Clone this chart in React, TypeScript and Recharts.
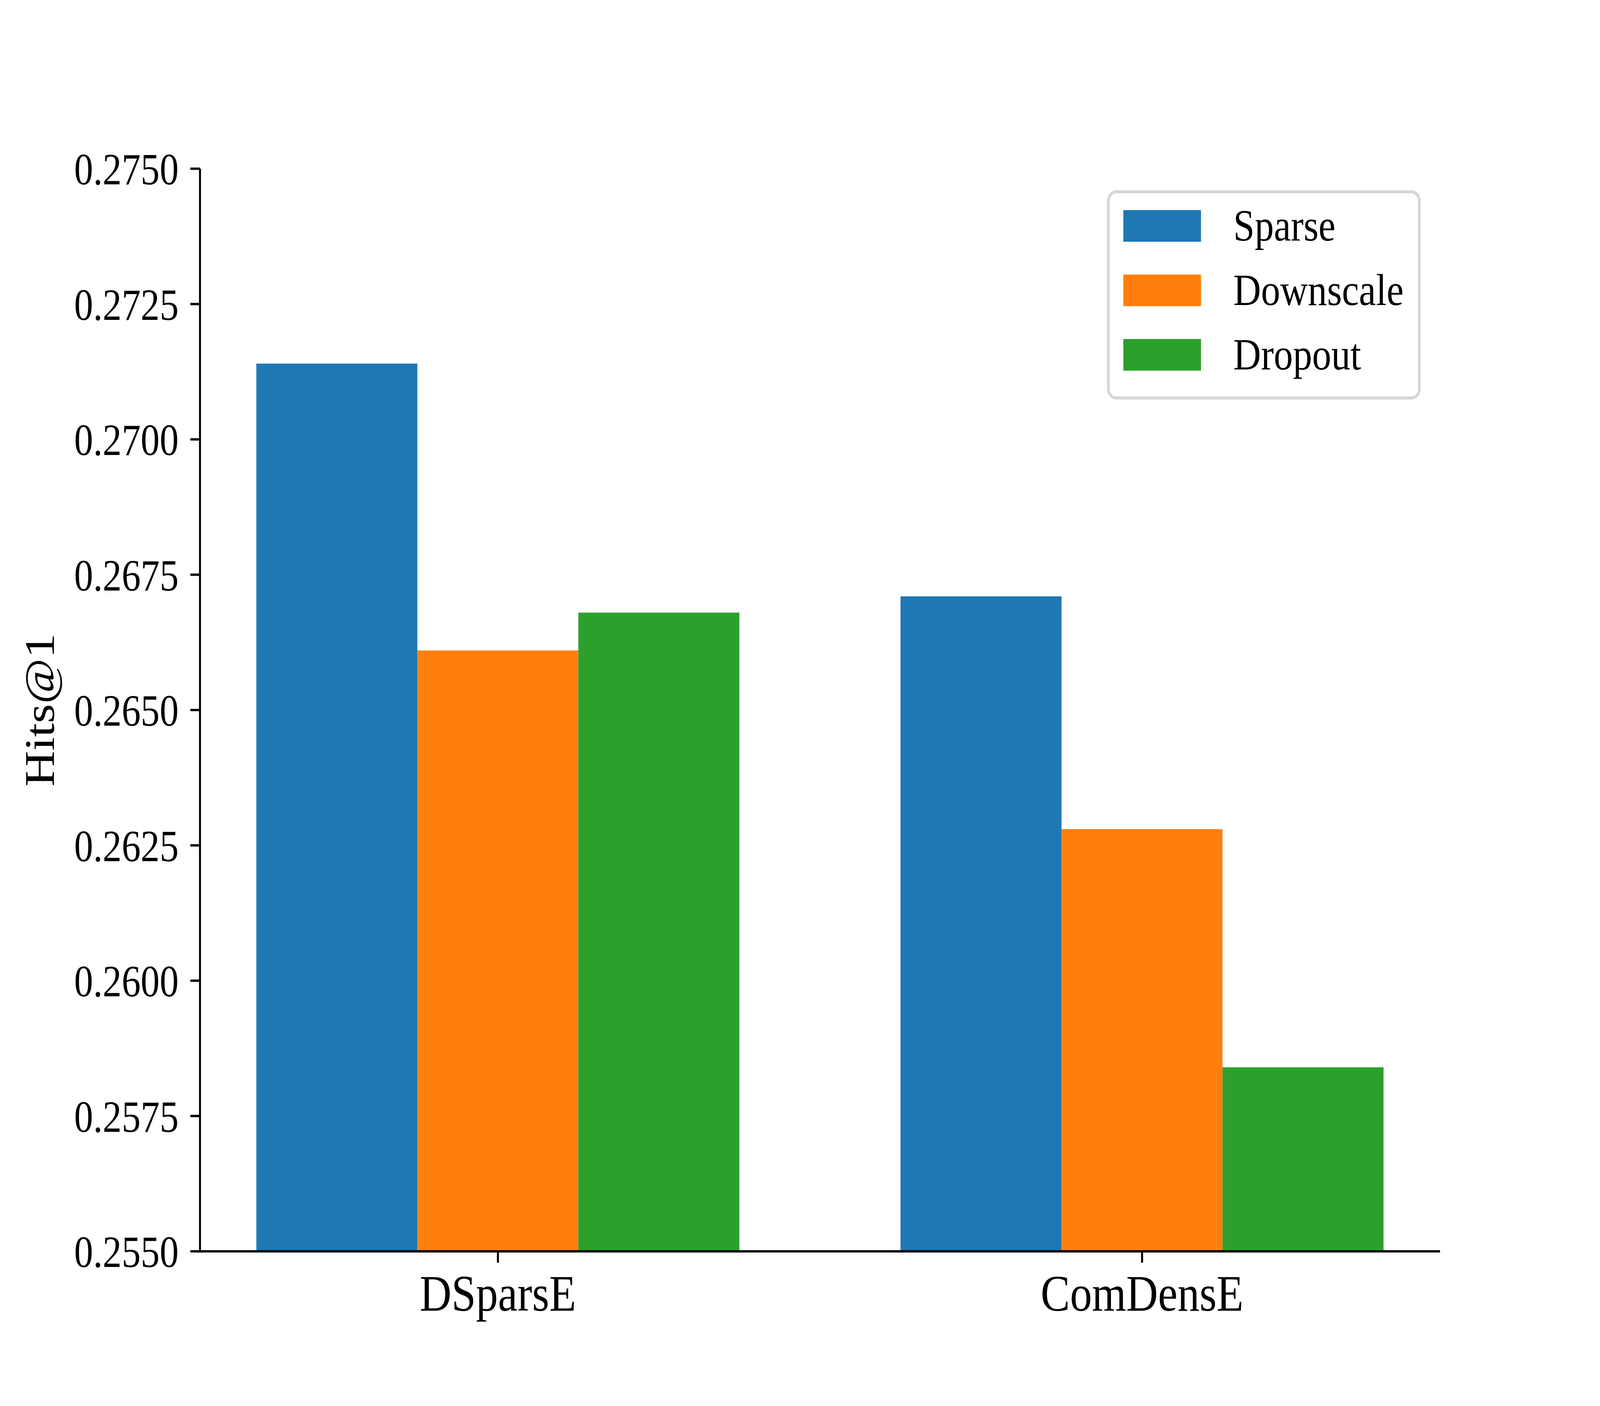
import { BarChart, Bar, XAxis, YAxis, Legend } from "recharts";

/* ── data ── */
const CATEGORIES = ["DSparsE", "ComDensE"];
const SPARSE = [0.2714, 0.2671];
const DOWNSCALE = [0.2661, 0.2628];
const DROPOUT = [0.2668, 0.2584];
const Y_TICKS = [0.255, 0.2575, 0.26, 0.2625, 0.265, 0.2675, 0.27, 0.2725, 0.275];

const SERIES = [
  { key: "sparse", name: "Sparse", color: "#1f77b4" },
  { key: "downscale", name: "Downscale", color: "#ff7f0e" },
  { key: "dropout", name: "Dropout", color: "#2ca02c" },
];

const data = CATEGORIES.map((name, i) => ({
  name,
  sparse: SPARSE[i],
  downscale: DOWNSCALE[i],
  dropout: DROPOUT[i],
}));

const FONT = '"Liberation Serif", "Times New Roman", serif';
const W = 4800;
const H = 3600;
const LINE = 6;

/* ── legend box (matplotlib style) ── */
function LegendBox() {
  const w = 941;
  const h = 536;
  return (
    <svg width={w} height={h} style={{ display: "block" }}>
      <rect x={4} y={4} width={w - 8} height={h - 8} rx={24} ry={24} fill="#fff" fillOpacity={0.8} stroke="#d6d6d6" strokeWidth={8} />
      {SERIES.map((s, i) => {
        const top = 51 + i * 165;
        return (
          <g key={s.key}>
            <rect x={49} y={top} width={233} height={81} fill={s.color} />
            <text x={379} y={top + 40 + 38} fontSize={115} fontFamily={FONT} fill="#000">
              {s.name}
            </text>
          </g>
        );
      })}
    </svg>
  );
}

export default function App() {
  // the browser caps the viewport (4096 wide), so stretch the figure to fill it
  const vw = typeof window !== "undefined" ? window.innerWidth : W;
  const vh = typeof window !== "undefined" ? window.innerHeight : H;
  const sx = Math.min(1, vw / W);
  const sy = Math.min(1, vh / H);

  return (
    <div
      style={{
        position: "absolute",
        left: 0,
        top: 0,
        width: W,
        height: H,
        background: "#fff",
        transform: `scale(${sx}, ${sy})`,
        transformOrigin: "0 0",
      }}
    >
      <BarChart
        width={W}
        height={H}
        data={data}
        margin={{ top: 432, right: 480, bottom: 0, left: 0 }}
        barCategoryGap="12.5%"
        barGap={0}
      >
        <XAxis
          dataKey="name"
          height={396}
          padding={{ left: -72.5, right: -72.5 }}
          axisLine={{ stroke: "#000", strokeWidth: LINE }}
          tickLine={{ stroke: "#000", strokeWidth: LINE }}
          tickSize={29}
          tickMargin={29}
          tick={{ fill: "#000", fontSize: 132, fontFamily: FONT }}
          interval={0}
        />
        <XAxis
          xAxisId="top"
          dataKey="name"
          orientation="top"
          height={0}
          tick={false}
          tickLine={false}
          axisLine={{ stroke: "#000", strokeWidth: LINE }}
        />
        <YAxis
          width={600}
          domain={[0.255, 0.275]}
          ticks={Y_TICKS}
          allowDataOverflow
          tickFormatter={(v: number) => v.toFixed(4)}
          axisLine={{ stroke: "#000", strokeWidth: LINE }}
          tickLine={{ stroke: "#000", strokeWidth: LINE }}
          tickSize={29}
          tickMargin={35}
          tick={{ fill: "#000", fontSize: 114, fontFamily: FONT }}
          interval={0}
          label={{
            content: () => (
              <text
                x={162}
                y={1818}
                transform="rotate(-90, 162, 1818)"
                textAnchor="middle"
                fontSize={127}
                fontFamily={FONT}
                fill="#000"
              >
                Hits@1
              </text>
            ),
          }}
        />
        <YAxis
          yAxisId="right"
          orientation="right"
          width={0}
          domain={[0.255, 0.275]}
          tick={false}
          tickLine={false}
          axisLine={{ stroke: "#000", strokeWidth: LINE }}
        />
        <Legend
          layout="vertical"
          align="center"
          verticalAlign="middle"
          wrapperStyle={{ position: "absolute", left: 3321, top: 487, width: 941, height: 536 }}
          content={() => <LegendBox />}
        />
        {SERIES.map((s) => (
          <Bar key={s.key} dataKey={s.key} name={s.name} fill={s.color} isAnimationActive={false} />
        ))}
      </BarChart>
    </div>
  );
}
